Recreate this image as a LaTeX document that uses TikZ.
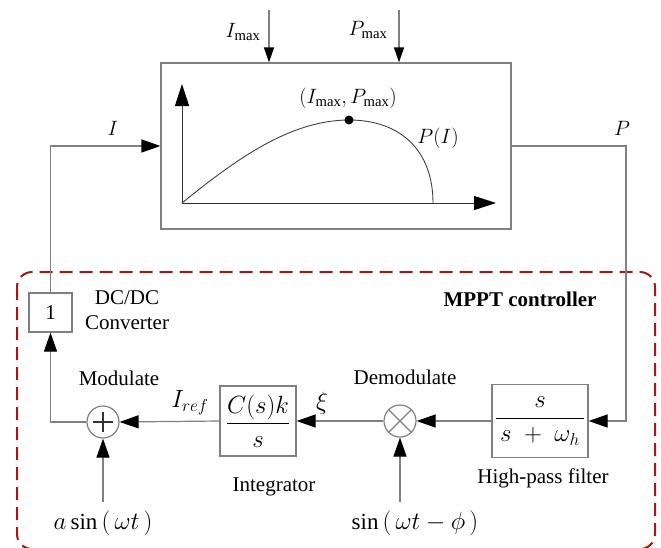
\documentclass[tikz,border=0pt]{standalone}
\usepackage{amsmath}
\usepackage{fontspec}
\setmainfont{Liberation Serif}
\usetikzlibrary{arrows.meta,calc}
\definecolor{lgray}{RGB}{128,128,128}
\definecolor{dred}{RGB}{160,25,25}
\begin{document}
\begin{tikzpicture}[x={(1pt,0pt)},y={(0pt,-1pt)},
  font=\fontsize{21}{25}\selectfont,
  wire/.style={draw=lgray,line width=1.2pt},
  arr/.style={wire,-{Triangle[length=19pt,width=13pt,black]}},
  smarr/.style={wire,-{Triangle[length=15pt,width=10pt,black]}},
  bigarr/.style={draw=black!80,line width=1pt,-{Triangle[length=22pt,width=14pt,black]}},
  blk/.style={draw=lgray,line width=1.2pt,rectangle,inner sep=0pt},
  circ/.style={draw=lgray,line width=1.2pt,circle,minimum size=32pt,inner sep=0pt},
  lbl/.style={inner sep=0pt},
  mlbl/.style={inner sep=0pt,font=\fontsize{23}{27}\selectfont},
  frac/.style={font=\fontsize{25}{30}\selectfont}]
\useasboundingbox (0,0) rectangle (661,547);
% dashed controller frame
\draw[dred,line width=2pt,dash pattern=on 13pt off 7pt,rounded corners=15pt] (17,272) rectangle (655,549);
% plant
\node[blk,minimum width=350pt,minimum height=166pt] (plant) at (336,146) {};
\coordinate (ax0) at (182,203);
\coordinate (axy) at (182,84);
\coordinate (axx) at (496,203);
\draw[bigarr] (ax0) -- (axy);
\draw[bigarr] (ax0) -- (axx);
\coordinate (pk) at (349,120);
\draw[black!75,line width=0.9pt] (ax0) .. controls (235,160) and (290,120) .. (pk)
   .. controls (400,120) and (433,150) .. (433,203);
\fill (pk) circle (4.5pt);
\node[lbl] (pklbl) at (348,98) {$(I_{\max},P_{\max})$};
\node[lbl] (pilbl) at (438,138) {$P(I)$};
% top inputs
\coordinate (imt) at (269,10);
\coordinate (pmt) at (399,10);
\draw[smarr] (imt) -- (imt |- plant.north);
\draw[smarr] (pmt) -- (pmt |- plant.north);
\node[lbl] (imlbl) at (243,32) {$I_{\max}$};
\node[lbl] (pmlbl) at (368,30) {$P_{\max}$};
% controller blocks
\node[blk,minimum width=43pt,minimum height=39pt] (conv) at (50.5,312.5) {1};
\node[circ] (sum) at (103,422) {};
\draw[black!80,line width=1.2pt] ($(sum.center)+(-10,0)$) -- ($(sum.center)+(10,0)$);
\draw[black!80,line width=1.2pt] ($(sum.center)+(0,-10)$) -- ($(sum.center)+(0,10)$);
\node[blk,frac,minimum width=76pt,minimum height=70pt] (integ) at (258,421) {$\dfrac{C(s)k}{s}$};
\node[circ] (mult) at (400,421) {};
\draw[lgray,line width=1.2pt] (mult.45) -- (mult.225) (mult.135) -- (mult.-45);
\node[blk,frac,minimum width=96pt,minimum height=73pt] (hpf) at (540,421) {$\dfrac{s}{\,s\;+\;\omega_h\,}$};
% connections
\draw[arr] (conv.north) |- (plant.west);
\coordinate (pc) at (626,146);
\draw[arr] (plant.east) -- (pc) |- (hpf.east);
\draw[arr] (hpf.west) -- (mult.east);
\draw[arr] (mult.west) -- (integ.east);
\draw[arr] (integ.west) -- (sum.east);
\coordinate (sl) at (50.5,422);
\draw[arr] (sum.west) -- (sl) -- (conv.south);
\coordinate (sa) at (103,502);
\coordinate (sb) at (400,502);
\draw[arr] (sa) -- (sum.south);
\draw[arr] (sb) -- (mult.south);
% labels
\node[lbl] (ilbl) at (113,128) {$I$};
\node[lbl] (plbl) at (622,128) {$P$};
\node[lbl,align=center] (convlbl) at (127,310) {DC/DC\\Converter};
\node[lbl] (modlbl) at (119,378) {Modulate};
\node[mlbl] (ireflbl) at (190,403) {$I_{ref}$};
\node[mlbl] (xilbl) at (322,403) {$\xi$};
\node[lbl] (intlbl) at (274,487) {Integrator};
\node[lbl] (demlbl) at (405,377) {Demodulate};
\node[lbl] (mppt) at (520,299) {\textbf{MPPT controller}};
\node[lbl] (hpflbl) at (543,478) {High-pass filter};
\node[mlbl] (salbl) at (103,523) {$a\sin\,(\,\omega t\,)$};
\node[mlbl] (sblbl) at (415,523) {$\sin\,(\,\omega t-\phi\,)$};
\end{tikzpicture}
\end{document}
